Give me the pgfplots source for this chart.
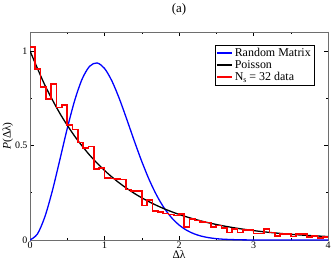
\documentclass[border=0pt]{standalone}
\usepackage{fontspec}
\setmainfont{Liberation Serif}
\usepackage{pgfplots}
\pgfplotsset{compat=1.18}
\definecolor{cblue}{RGB}{0,0,255}
\definecolor{cred}{RGB}{250,2,2}
\definecolor{cblack}{RGB}{0,0,0}
\definecolor{cframe}{RGB}{110,110,110}
\begin{document}
\begin{tikzpicture}
\begin{axis}[
  name=ax,
  scale only axis,
  width=298bp, height=208bp,
  xmin=0, xmax=4, ymin=0, ymax=1.1,
  xtick={0,1,2,3,4}, ytick={0,0.5,1},
  yticklabels={0,0.5,1},
  minor x tick num=1, minor y tick num=1,
  tick align=inside,
  major tick length=4bp, minor tick length=2bp,
  tick style={draw=cblack, line width=0.5bp},
  axis line style={draw=cframe, line width=0.8bp},
  /pgf/number format/assume math mode=true,
  tick label style={font=\fontsize{10}{10}\selectfont},
  xticklabel style={yshift=2bp},
  yticklabel style={xshift=1bp},
  xlabel={Δλ},
  ylabel={\textit{P}(Δλ)},
  xlabel style={font=\fontsize{11.5}{11.5}\selectfont, yshift=5bp},
  ylabel style={font=\fontsize{11.5}{11.5}\selectfont, yshift=-5bp},
  title={(a)},
  title style={font=\fontsize{13}{13}\selectfont, yshift=7bp},
  legend style={at={(0.953,0.938)}, anchor=north east, draw=cblack,
    font=\fontsize{12}{12}\selectfont, inner sep=1bp, row sep=-1.5bp,
    legend cell align=left},
  legend image code/.code={\draw[#1] (0bp,0bp) -- (15bp,0bp);},
]
\addlegendimage{color=cblue, line width=1.4bp}
\addlegendentry{Random Matrix}
\addlegendimage{color=cblack, line width=1.4bp}
\addlegendentry{Poisson}
\addlegendimage{color=cred, line width=1.6bp}
\addlegendentry{N\raisebox{-0.35ex}{\fontsize{8}{8}\selectfont s} = 32 data}
\addplot[color=cblue, line width=1.3bp, smooth, forget plot] coordinates {
(0,0) (0.1,0.032013) (0.2,0.123252) (0.3,0.260213) (0.4,0.423150) (0.5,0.589595)
(0.6,0.738028) (0.7,0.851378) (0.8,0.918662) (0.9,0.936364) (1.0,0.907573)
(1.1,0.840523) (1.2,0.746447) (1.3,0.637104) (1.4,0.523830) (1.5,0.415711)
(1.6,0.318796) (1.7,0.236412) (1.8,0.169739) (1.9,0.118077) (2.0,0.079643)
(2.1,0.052090) (2.2,0.033064) (2.3,0.020376) (2.4,0.012195) (2.5,0.007093)
(2.6,0.004011) (2.8,0.001175) (3.0,0.000309) (3.5,0.000005) (4.0,0)
};
\addplot[color=cblack, line width=1.3bp, smooth, forget plot] coordinates {
(0,1) (0.2,0.818731) (0.4,0.670320) (0.6,0.548812) (0.8,0.449329) (1.0,0.367879)
(1.2,0.301194) (1.4,0.246597) (1.6,0.201897) (1.8,0.165299) (2.0,0.135335)
(2.2,0.110803) (2.4,0.090718) (2.6,0.074274) (2.8,0.060810) (3.0,0.049787)
(3.2,0.040762) (3.4,0.033373) (3.6,0.027324) (3.8,0.022371) (4.0,0.018316)
};
\addplot[color=cred, line width=1.7bp, sharp plot, forget plot] coordinates {
(0,1.02) (0.0714,1.02) (0.0714,0.905) (0.1429,0.905) (0.1429,0.81) (0.2143,0.81)
(0.2143,0.745) (0.2857,0.745) (0.2857,0.825) (0.3571,0.825) (0.3571,0.70) (0.4286,0.70)
(0.4286,0.715) (0.5,0.715) (0.5,0.61) (0.5714,0.61) (0.5714,0.585) (0.6429,0.585)
(0.6429,0.515) (0.7143,0.515) (0.7143,0.485) (0.7857,0.485) (0.7857,0.495) (0.8571,0.495)
(0.8571,0.375) (0.9286,0.375) (0.9286,0.38) (1.0,0.38)
(1.0,0.328) (1.0714,0.328) (1.0714,0.325) (1.1429,0.325) (1.1429,0.322) (1.2143,0.322)
(1.2143,0.32) (1.2857,0.32) (1.2857,0.267) (1.3571,0.267) (1.3571,0.258) (1.4286,0.258)
(1.4286,0.258) (1.5,0.258) (1.5,0.183) (1.5714,0.183) (1.5714,0.21) (1.6429,0.21)
(1.6429,0.152) (1.7143,0.152) (1.7143,0.148) (1.7857,0.148) (1.7857,0.14) (1.8571,0.14)
(1.8571,0.135) (1.9286,0.135) (1.9286,0.13) (2.0,0.13)
(2.0,0.137) (2.0714,0.137) (2.0714,0.07) (2.1429,0.07) (2.1429,0.112) (2.2143,0.112)
(2.2143,0.103) (2.2857,0.103) (2.2857,0.097) (2.3571,0.097) (2.3571,0.093) (2.4286,0.093)
(2.4286,0.07) (2.5,0.07) (2.5,0.077) (2.5714,0.077) (2.5714,0.065) (2.6429,0.065)
(2.6429,0.04) (2.7143,0.04) (2.7143,0.06) (2.7857,0.06) (2.7857,0.04) (2.8571,0.04)
(2.8571,0.052) (2.9286,0.052) (2.9286,0.052) (3.0,0.052)
(3.0,0.035) (3.0714,0.035) (3.0714,0.035) (3.1429,0.035) (3.1429,0.057) (3.2143,0.057)
(3.2143,0.04) (3.2857,0.04) (3.2857,0.022) (3.3571,0.022) (3.3571,0.03) (3.4286,0.03)
(3.4286,0.03) (3.5,0.03) (3.5,0.018) (3.5714,0.018) (3.5714,0.03) (3.6429,0.03)
(3.6429,0.03) (3.7143,0.03) (3.7143,0.016) (3.7857,0.016) (3.7857,0.02) (3.8571,0.02)
(3.8571,0.012) (3.9286,0.012) (3.9286,0.015) (4.0,0.015)
};
\end{axis}
\pgfresetboundingbox
\path ([xshift=-30bp,yshift=-24bp]ax.south west) rectangle ([xshift=4bp,yshift=32bp]ax.north east);
\end{tikzpicture}
\end{document}
